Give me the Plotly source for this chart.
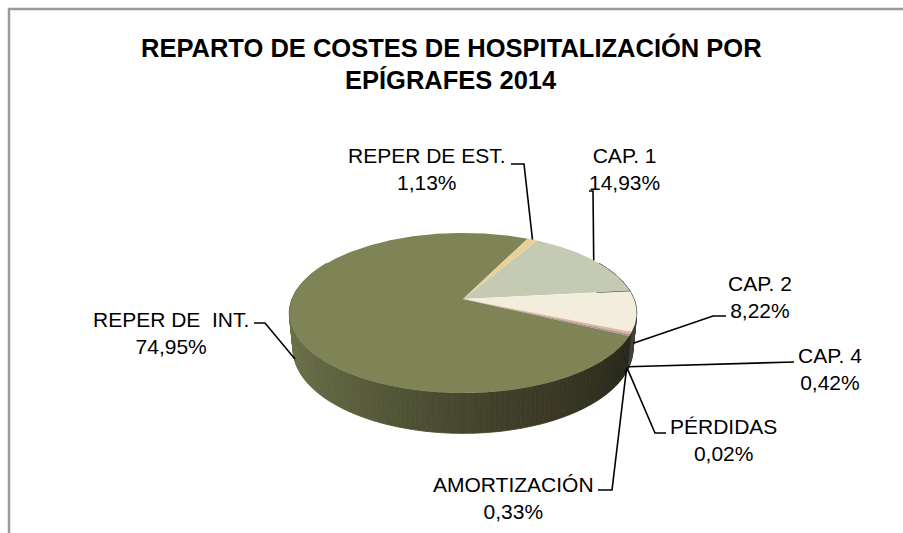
import numpy as np
import plotly.graph_objects as go

# Cost breakdown by heading, clockwise from the first slice
labels = ["CAP. 1", "CAP. 2", "CAP. 4", "PÉRDIDAS", "AMORTIZACIÓN",
          "REPER DE \u00a0INT.", "REPER DE EST."]
values = [14.93, 8.22, 0.42, 0.02, 0.33, 74.95, 1.13]
colors = ["#C5CBB2", "#F2EDDC", "#E9B196", "#C9A0A0", "#9E98A6",
          "#7E8455", "#E9CF9A"]

title_lines = ["REPARTO DE COSTES DE HOSPITALIZACIÓN POR", "EPÍGRAFES 2014"]

# Label text centres and leader-line bends (pixel space)
label_pos = [(624, 169), (760, 297), (830, 369), (723, 440),
             (513, 498), (171, 333), (427, 169)]
leader_bends = [
    [(593, 191), (589, 191)],
    [(713, 316), (726, 316)],
    [(794, 362)],
    [(655, 433), (666, 433)],
    [(612, 490), (598, 490)],
    [(265, 323), (254, 323)],
    [(524, 164), (511, 164)],
]

# 3-D pie geometry (perspective projection of a disc of radius 1)
CX, CY = 463.0, 299.0
DIST = 5.1
FOC = 171.0 * DIST
ELEV = np.radians(27.0)
THICK = 0.237
START = 30.0


def project(theta_deg, h):
    th = np.radians(theta_deg)
    x = np.sin(th)
    yd = np.cos(th)
    v = h * np.cos(ELEV) + yd * np.sin(ELEV)
    w = DIST + yd * np.cos(ELEV) - h * np.sin(ELEV)
    return CX + FOC * x / w, CY - FOC * v / w


def hex_rgb(c):
    c = c.lstrip("#")
    return np.array([int(c[i:i + 2], 16) for i in (0, 2, 4)], dtype=float)


def side_color(base, theta_deg):
    th = np.radians(theta_deg)
    rgb = hex_rgb(base) * (0.56 - 0.30 * np.sin(th))
    d = ((theta_deg - 160.0 + 180.0) % 360.0) - 180.0
    warm = 0.35 * np.exp(-(d / 28.0) ** 2)
    rgb = (1 - warm) * rgb + warm * np.array([68.0, 58.0, 40.0])
    r, g, b = np.clip(rgb, 0, 255).astype(int)
    return f"rgb({r},{g},{b})"


# slice angle ranges
spans = np.array(values) / sum(values) * 360.0
edges = START + np.concatenate([[0.0], np.cumsum(spans)])
slices = [(edges[i], edges[i + 1]) for i in range(len(values))]


def slice_at(theta):
    for i, (a0, a1) in enumerate(slices):
        t = theta
        while t < a0:
            t += 360.0
        if a0 <= t < a1:
            return i
    return len(values) - 1


fig = go.Figure()

# side wall: thin quads along the front rim, far ones first
cuts = list(np.arange(60.0, 300.0 + 1e-9, 1.5))
for a in edges:
    for k in (-360.0, 0.0, 360.0):
        if 60.0 < a + k < 300.0:
            cuts.append(a + k)
cuts = sorted(set(cuts))
quads = []
for a0, a1 in zip(cuts[:-1], cuts[1:]):
    mid = 0.5 * (a0 + a1)
    quads.append((np.cos(np.radians(mid)), a0, a1, slice_at(mid)))
quads.sort(key=lambda q: -q[0])
for _, a0, a1, idx in quads:
    ang = np.linspace(a0, a1, 3)
    tx, ty = project(ang, 0.0)
    bx, by = project(ang[::-1], -THICK)
    col = side_color(colors[idx], 0.5 * (a0 + a1))
    fig.add_trace(go.Scatter(
        x=np.concatenate([tx, bx, tx[:1]]), y=np.concatenate([ty, by, ty[:1]]),
        mode="lines", fill="toself", fillcolor=col,
        line=dict(color=col, width=0.8), hoverinfo="skip", showlegend=False))

# top face slices
for i, (a0, a1) in enumerate(slices):
    n = max(3, int((a1 - a0) / 0.5) + 2)
    ang = np.linspace(a0, a1, n)
    ax, ay = project(ang, 0.0)
    px = np.concatenate([[CX], ax, [CX]])
    py = np.concatenate([[CY], ay, [CY]])
    fig.add_trace(go.Scatter(
        x=px, y=py, mode="lines", fill="toself", fillcolor=colors[i],
        line=dict(color=colors[i], width=0), name=labels[i],
        hoverinfo="name", showlegend=False))

# leader lines and data labels
for i, (a0, a1) in enumerate(slices):
    mid = 0.5 * (a0 + a1)
    h = 0.0 if np.cos(np.radians(mid)) > 0 else -0.9 * THICK
    sx, sy = project(mid, h)
    pts = [(sx, sy)] + leader_bends[i]
    fig.add_trace(go.Scatter(
        x=[p[0] for p in pts], y=[p[1] for p in pts], mode="lines",
        line=dict(color="black", width=1.6), hoverinfo="skip",
        showlegend=False))
    pct = f"{values[i]:.2f}".replace(".", ",") + "%"
    fig.add_annotation(
        x=label_pos[i][0], y=label_pos[i][1], xref="x", yref="y",
        text=f"{labels[i]}<br>{pct}", showarrow=False,
        xanchor="center", yanchor="middle", align="center",
        font=dict(family="Liberation Sans, Arial, sans-serif", size=21,
                  color="black"))

# chart title, one annotation per line
for line, ty in zip(title_lines, (47, 80)):
    fig.add_annotation(
        x=451, y=ty, xref="x", yref="y", text=f"<b>{line}</b>",
        showarrow=False, xanchor="center", yanchor="middle",
        font=dict(family="Liberation Sans, Arial, sans-serif",
                  size=25.5, color="black"))

# chart area frame
fig.add_shape(type="path", xref="x", yref="y",
              path="M 9 540 L 9 9 L 910 9",
              line=dict(color="#9A9A9A", width=2.5))

fig.update_layout(
    width=903, height=533,
    margin=dict(l=0, r=0, t=0, b=0),
    paper_bgcolor="white", plot_bgcolor="white",
    xaxis=dict(range=[0, 903], visible=False, fixedrange=True),
    yaxis=dict(range=[533, 0], visible=False, fixedrange=True),
)

fig.write_html("out.html")
